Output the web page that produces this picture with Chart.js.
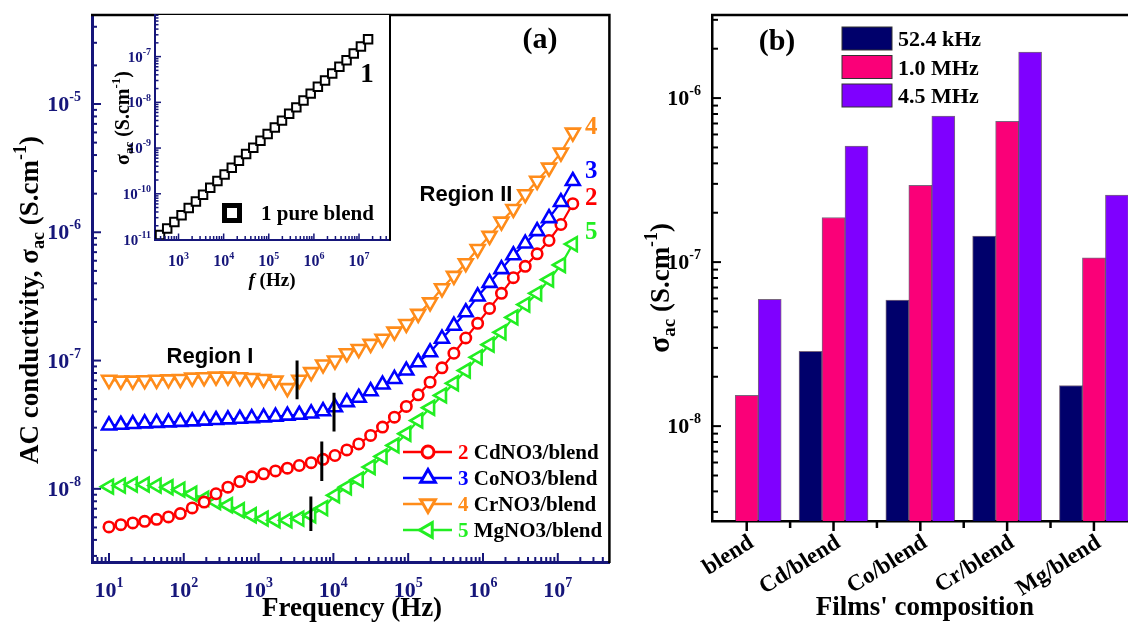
<!DOCTYPE html>
<html>
<head>
<meta charset="utf-8">
<script src="https://cdn.jsdelivr.net/npm/chart.js@4.4.0/dist/chart.umd.min.js"></script>
<style>
  html, body { margin: 0; padding: 0; background: #fff; overflow: hidden; width: 1128px; height: 622px; }
  canvas { position: absolute; top: 0; }
  #cA { left: 0; }
  #cI { left: 100px; }
  #cB { left: 620px; }
</style>
</head>
<body>
<canvas id="cA" width="620" height="622"></canvas>
<canvas id="cI" width="300" height="300"></canvas>
<canvas id="cB" width="530" height="622"></canvas>
<script>
// ---- data ----
const freqHz = [10, 14.4, 20.8, 30.0, 43.3, 62.4, 89.9, 129.7, 187.1, 269.8,
  389.0, 561.0, 809.1, 1167, 1683, 2427, 3499, 5047, 7278, 10496,
  15136, 21827, 31477, 45394, 65464, 94406, 136144, 196336, 283139, 408319,
  588844, 849180, 1224616, 1766038, 2546830, 3672823, 5296634, 7638358, 11015393, 15885467];

const sigmaCd = [5.05e-9, 5.26e-9, 5.42e-9, 5.58e-9, 5.79e-9, 6.04e-9, 6.41e-9, 7.10e-9, 7.89e-9, 9.16e-9,
  1.03e-8, 1.14e-8, 1.24e-8, 1.31e-8, 1.38e-8, 1.45e-8, 1.52e-8, 1.60e-8, 1.70e-8, 1.82e-8,
  2.01e-8, 2.24e-8, 2.61e-8, 3.03e-8, 3.62e-8, 4.39e-8, 5.41e-8, 6.78e-8, 8.77e-8, 1.14e-7,
  1.50e-7, 1.95e-7, 2.55e-7, 3.34e-7, 4.43e-7, 5.43e-7, 6.79e-7, 8.63e-7, 1.15e-6, 1.67e-6];

const sigmaCo = [3.12e-8, 3.16e-8, 3.20e-8, 3.24e-8, 3.27e-8, 3.30e-8, 3.33e-8, 3.36e-8, 3.40e-8, 3.44e-8,
  3.48e-8, 3.52e-8, 3.56e-8, 3.61e-8, 3.65e-8, 3.72e-8, 3.78e-8, 3.87e-8, 4.03e-8, 4.32e-8,
  4.74e-8, 5.13e-8, 5.77e-8, 6.50e-8, 7.19e-8, 8.36e-8, 9.70e-8, 1.16e-7, 1.48e-7, 1.87e-7,
  2.38e-7, 3.16e-7, 4.03e-7, 5.16e-7, 6.62e-7, 8.17e-7, 1.02e-6, 1.29e-6, 1.72e-6, 2.51e-6];

const sigmaCr = [7.08e-8, 6.98e-8, 6.98e-8, 7.03e-8, 7.08e-8, 7.14e-8, 7.19e-8, 7.36e-8, 7.41e-8, 7.50e-8,
  7.50e-8, 7.41e-8, 7.31e-8, 7.19e-8, 6.98e-8, 6.10e-8, 7.08e-8, 8.13e-8, 9.33e-8, 1.00e-7,
  1.14e-7, 1.23e-7, 1.35e-7, 1.48e-7, 1.68e-7, 1.93e-7, 2.31e-7, 2.84e-7, 3.66e-7, 4.57e-7,
  5.74e-7, 7.40e-7, 9.38e-7, 1.21e-6, 1.52e-6, 1.98e-6, 2.52e-6, 3.19e-6, 4.18e-6, 5.98e-6];

const sigmaMg = [1.04e-8, 1.06e-8, 1.08e-8, 1.08e-8, 1.06e-8, 1.03e-8, 9.86e-9, 9.16e-9, 8.37e-9, 7.89e-9,
  7.45e-9, 6.81e-9, 6.22e-9, 5.86e-9, 5.69e-9, 5.69e-9, 5.86e-9, 6.22e-9, 7.08e-9, 8.91e-9,
  1.03e-8, 1.18e-8, 1.48e-8, 1.79e-8, 2.18e-8, 2.69e-8, 3.41e-8, 4.29e-8, 5.35e-8, 6.65e-8,
  8.36e-8, 1.06e-7, 1.33e-7, 1.66e-7, 2.17e-7, 2.73e-7, 3.34e-7, 4.27e-7, 5.56e-7, 8.09e-7];

// inset: pure blend, measured from 389 Hz upward
const freqInset = freqHz.slice(10);
const sigmaBlend = [1.26e-11, 1.74e-11, 2.40e-11, 3.39e-11, 4.90e-11, 6.76e-11, 9.55e-11, 1.35e-10, 1.91e-10, 2.63e-10,
  3.72e-10, 5.25e-10, 7.41e-10, 1.02e-9, 1.45e-9, 2.04e-9, 2.82e-9, 3.98e-9, 5.62e-9, 7.76e-9,
  1.10e-8, 1.55e-8, 2.19e-8, 3.02e-8, 4.27e-8, 6.03e-8, 8.32e-8, 1.17e-7, 1.66e-7, 2.40e-7];

// crossover markers (Region I / Region II boundary) for Cr, Co, Cd, Mg
const crossFreq = [3270, 10200, 7000, 5000];
const crossLow = [5.0e-8, 2.8e-8, 1.15e-8, 4.7e-9];
const crossHigh = [1.0e-7, 5.6e-8, 2.34e-8, 8.7e-9];

// panel (b)
const compositions = ['blend', 'Cd/blend', 'Co/blend', 'Cr/blend', 'Mg/blend'];
const bar52kHz = [null, 2.86e-8, 5.86e-8, 1.44e-7, 1.77e-8];
const bar1MHz = [1.54e-8, 1.87e-7, 2.94e-7, 7.21e-7, 1.06e-7];
const bar45MHz = [5.93e-8, 5.09e-7, 7.76e-7, 1.91e-6, 2.56e-7];

const mainXExp = [1, 2, 3, 4, 5, 6, 7];
const mainYExp = [-5, -6, -7, -8];
const insetXExp = [3, 4, 5, 6, 7];
const insetYExp = [-7, -8, -9, -10, -11];
const barYExp = [-6, -7, -8];

// ---- styling ----
const serif = '"Liberation Serif", "Times New Roman", serif';
const sans = '"Liberation Sans", Arial, sans-serif';
const navy = '#16167a';
const cRed = '#ff0000', cBlue = '#0000ff', cOrange = '#ff8c1a', cGreen = '#22ee22';

function pts(xs, ys) { return xs.map((x, i) => ({ x: x, y: ys[i] })); }

function line(ctx, x1, y1, x2, y2) {
  ctx.beginPath(); ctx.moveTo(x1, y1); ctx.lineTo(x2, y2); ctx.stroke();
}

function logTicks(scale, cb) {
  const lo = Math.floor(Math.log10(scale.min)), hi = Math.ceil(Math.log10(scale.max));
  for (let e = lo; e <= hi; e++) {
    for (let m = 1; m < 10; m++) {
      const v = m * Math.pow(10, e);
      if (v < scale.min * 0.999 || v > scale.max * 1.001) continue;
      cb(scale.getPixelForValue(v), m === 1);
    }
  }
}

// draws a row of text pieces (for sub/superscripts)
function rich(ctx, parts, x, y, rot, align, color) {
  ctx.save();
  ctx.translate(x, y);
  if (rot) ctx.rotate(rot);
  let total = 0;
  parts.forEach(p => {
    p.font = (p.it ? 'italic ' : '') + 'bold ' + p.s + 'px ' + (p.f || serif);
    ctx.font = p.font;
    p.w = ctx.measureText(p.t).width;
    total += p.w;
  });
  let cx = align === 'center' ? -total / 2 : (align === 'right' ? -total : 0);
  ctx.textAlign = 'left';
  ctx.textBaseline = 'alphabetic';
  parts.forEach(p => {
    ctx.font = p.font;
    ctx.fillStyle = p.c || color || '#000';
    ctx.fillText(p.t, cx, p.dy || 0);
    cx += p.w;
  });
  ctx.restore();
}

function pow10(exp, size, sup) {
  return [{ t: '10', s: size }, { t: String(exp), s: sup, dy: -size * 0.45 }];
}

function marker(ctx, style, rot, x, y, r, color, lw) {
  ctx.save();
  ctx.translate(x, y);
  ctx.rotate(rot * Math.PI / 180);
  ctx.beginPath();
  if (style === 'circle') {
    ctx.arc(0, 0, r, 0, 2 * Math.PI);
  } else if (style === 'triangle') {
    for (let k = 0; k < 3; k++) {
      const a = k * 2 * Math.PI / 3;
      if (k) ctx.lineTo(Math.sin(a) * r, -Math.cos(a) * r);
      else ctx.moveTo(Math.sin(a) * r, -Math.cos(a) * r);
    }
    ctx.closePath();
  } else {
    ctx.rect(-r, -r, 2 * r, 2 * r);
  }
  ctx.fillStyle = '#fff';
  ctx.fill();
  ctx.lineWidth = lw;
  ctx.strokeStyle = color;
  ctx.stroke();
  ctx.restore();
}

const hiddenAxis = (color, width) => ({
  ticks: { display: false },
  grid: { display: false, drawTicks: false },
  border: { color: color, width: width }
});

function series(data, color, style, rot, r) {
  return {
    data: data, borderColor: color, borderWidth: 2.2,
    pointStyle: style, pointRotation: rot, pointRadius: r, pointHoverRadius: r,
    pointBorderWidth: 2.6, pointBackgroundColor: '#fff', pointBorderColor: color,
    tension: 0
  };
}

// legend rows for panel (a)
const legendA = [
  { n: '2', t: ' CdNO3/blend', c: cRed, st: 'circle', rot: 0, r: 6 },
  { n: '3', t: ' CoNO3/blend', c: cBlue, st: 'triangle', rot: 0, r: 8.5 },
  { n: '4', t: ' CrNO3/blend', c: cOrange, st: 'triangle', rot: 180, r: 8.5 },
  { n: '5', t: ' MgNO3/blend', c: cGreen, st: 'triangle', rot: 270, r: 8.5 }
];

const panelA = {
  id: 'panelA',
  afterDraw(chart) {
    const ctx = chart.ctx, a = chart.chartArea, xs = chart.scales.x, ys = chart.scales.y;
    ctx.save();
    ctx.strokeStyle = '#000'; ctx.lineWidth = 2.5;
    ctx.beginPath(); ctx.moveTo(a.left - 1, a.top); ctx.lineTo(a.right, a.top); ctx.lineTo(a.right, a.bottom + 1); ctx.stroke();

    ctx.strokeStyle = navy; ctx.lineWidth = 2;
    logTicks(ys, (p, major) => line(ctx, a.left, p, a.left + (major ? 9 : 5), p));
    logTicks(xs, (p, major) => line(ctx, p, a.bottom, p, a.bottom - (major ? 9 : 5)));

    mainYExp.forEach(e => rich(ctx, pow10(e, 22, 14), a.left - 11, ys.getPixelForValue(Math.pow(10, e)) + 7, 0, 'right', navy));
    mainXExp.forEach(e => rich(ctx, pow10(e, 22, 14), xs.getPixelForValue(Math.pow(10, e)), 597, 0, 'center', navy));

    rich(ctx, [{ t: 'Frequency (Hz)', s: 27 }], 352, 616, 0, 'center');
    rich(ctx, [{ t: 'AC conductivity, σ', s: 27 }, { t: 'ac', s: 18, dy: 6 }, { t: ' (S.cm', s: 27 },
      { t: '-1', s: 18, dy: -12 }, { t: ')', s: 27 }], 38, 300, -Math.PI / 2, 'center');

    rich(ctx, [{ t: 'Region I', s: 22, f: sans }], 210, 363, 0, 'center');
    rich(ctx, [{ t: 'Region II', s: 22, f: sans }], 466, 201, 0, 'center');
    rich(ctx, [{ t: '(a)', s: 30 }], 540, 48, 0, 'center');

    rich(ctx, [{ t: '4', s: 25 }], 585, 134, 0, 'left', cOrange);
    rich(ctx, [{ t: '3', s: 25 }], 585, 178, 0, 'left', cBlue);
    rich(ctx, [{ t: '2', s: 25 }], 585, 205, 0, 'left', cRed);
    rich(ctx, [{ t: '5', s: 25 }], 585, 239, 0, 'left', cGreen);

    legendA.forEach((row, i) => {
      const y = 452 + i * 26;
      ctx.strokeStyle = row.c; ctx.lineWidth = 2.5;
      line(ctx, 403, y, 452, y);
      marker(ctx, row.st, row.rot, 428, y, row.r, row.c, 3);
      rich(ctx, [{ t: row.n, s: 21, c: row.c }, { t: row.t, s: 21 }], 458, y + 7, 0, 'left');
    });
    ctx.restore();
  }
};

// crossover bars drawn on top of the markers
const crossSets = crossFreq.map((f, i) => ({
  data: [{ x: f, y: crossLow[i] }, { x: f, y: crossHigh[i] }],
  borderColor: '#000', borderWidth: 3, pointRadius: 0, order: -1
}));

new Chart(document.getElementById('cA'), {
  type: 'line',
  data: {
    datasets: [
      series(pts(freqHz, sigmaCr), cOrange, 'triangle', 180, 8),
      series(pts(freqHz, sigmaCo), cBlue, 'triangle', 0, 8),
      series(pts(freqHz, sigmaCd), cRed, 'circle', 0, 5.2),
      series(pts(freqHz, sigmaMg), cGreen, 'triangle', 270, 8)
    ].concat(crossSets)
  },
  options: {
    responsive: false, animation: false, devicePixelRatio: 1,
    layout: { padding: { left: 92, top: 15, right: 9, bottom: 60 } },
    plugins: { legend: { display: false }, tooltip: { enabled: false } },
    scales: {
      x: Object.assign({ type: 'logarithmic', position: 'bottom', min: 5.93, max: 4.9e7, bounds: 'data' }, hiddenAxis(navy, 3)),
      y: Object.assign({ type: 'logarithmic', position: 'left', min: 2.69e-9, max: 4.94e-5, bounds: 'data' }, hiddenAxis(navy, 3))
    }
  },
  plugins: [panelA]
});

// ---- inset ----
const panelInset = {
  id: 'panelInset',
  beforeDraw(chart) {
    const ctx = chart.ctx, a = chart.chartArea;
    ctx.save(); ctx.fillStyle = '#fff'; ctx.fillRect(a.left, a.top, a.right - a.left, a.bottom - a.top); ctx.restore();
  },
  afterDraw(chart) {
    const ctx = chart.ctx, a = chart.chartArea, xs = chart.scales.x, ys = chart.scales.y;
    ctx.save();
    ctx.strokeStyle = '#000'; ctx.lineWidth = 2;
    line(ctx, a.right, a.top, a.right, a.bottom + 1);
    ctx.strokeStyle = navy; ctx.lineWidth = 1.5;
    logTicks(ys, (p, major) => line(ctx, a.left, p, a.left + (major ? 6 : 3.5), p));
    logTicks(xs, (p, major) => line(ctx, p, a.bottom, p, a.bottom - (major ? 6 : 3.5)));

    insetYExp.forEach(e => rich(ctx, pow10(e, 15, 10), a.left - 4, ys.getPixelForValue(Math.pow(10, e)) + 5, 0, 'right', navy));
    insetXExp.forEach(e => rich(ctx, pow10(e, 16, 10), xs.getPixelForValue(Math.pow(10, e)), 266, 0, 'center', navy));

    rich(ctx, [{ t: 'f', s: 19, it: true }, { t: ' (Hz)', s: 19 }], 172, 286, 0, 'center');
    rich(ctx, [{ t: 'σ', s: 20 }, { t: 'ac', s: 13, dy: 4 }, { t: ' (S.cm', s: 20 }, { t: '-1', s: 13, dy: -9 }, { t: ')', s: 20 }],
      29, 118, -Math.PI / 2, 'center');

    rich(ctx, [{ t: '1', s: 27 }], 267, 82, 0, 'center');
    marker(ctx, 'rect', 0, 132, 213, 7.5, '#000', 5);
    rich(ctx, [{ t: '1 pure blend', s: 21 }], 161, 220, 0, 'left');
    ctx.restore();
  }
};

new Chart(document.getElementById('cI'), {
  type: 'line',
  data: {
    datasets: [{
      data: pts(freqInset, sigmaBlend), borderColor: '#000', borderWidth: 1.5,
      pointStyle: 'rect', pointRadius: 6, pointHoverRadius: 6, pointBorderWidth: 2,
      pointBackgroundColor: '#fff', pointBorderColor: '#000', tension: 0
    }]
  },
  options: {
    responsive: false, animation: false, devicePixelRatio: 1,
    layout: { padding: { left: 55, top: 15, right: 10, bottom: 60.5 } },
    plugins: { legend: { display: false }, tooltip: { enabled: false } },
    scales: {
      x: Object.assign({ type: 'logarithmic', position: 'bottom', min: 301, max: 4.86e7, bounds: 'data' }, hiddenAxis(navy, 2)),
      y: Object.assign({ type: 'logarithmic', position: 'left', min: 1e-11, max: 8.13e-7, bounds: 'data' }, hiddenAxis(navy, 2))
    }
  },
  plugins: [panelInset]
});

// ---- panel (b) ----
const barColors = ['#00006b', '#fa0078', '#7f00ff'];
const barLabels = ['52.4 kHz', '1.0 MHz', '4.5 MHz'];

const panelB = {
  id: 'panelB',
  afterDraw(chart) {
    const ctx = chart.ctx, a = chart.chartArea, xs = chart.scales.x, ys = chart.scales.y;
    ctx.save();
    ctx.strokeStyle = '#000'; ctx.lineWidth = 2.5;
    line(ctx, a.left - 1, a.top, a.right, a.top);
    ctx.lineWidth = 2;
    logTicks(ys, (p, major) => line(ctx, a.left, p, a.left + (major ? 9 : 6), p));
    ctx.lineWidth = 2.5;
    compositions.forEach((c, i) => {
      line(ctx, xs.getPixelForValue(i), a.bottom, xs.getPixelForValue(i), a.bottom + 10);
      if (i < compositions.length - 1) {
        const m = xs.getPixelForValue(i + 0.5);
        line(ctx, m, a.bottom, m, a.bottom + 7);
      }
    });

    barYExp.forEach(e => rich(ctx, pow10(e, 22, 14), a.left - 11, ys.getPixelForValue(Math.pow(10, e)) + 7, 0, 'right'));

    compositions.forEach((c, i) => {
      ctx.save();
      ctx.translate(xs.getPixelForValue(i) + 5, a.bottom + 20);
      ctx.rotate(-32 * Math.PI / 180);
      ctx.font = 'bold 23px ' + serif;
      ctx.fillStyle = '#000';
      ctx.textAlign = 'right';
      ctx.textBaseline = 'middle';
      ctx.fillText(c, 0, 0);
      ctx.restore();
    });

    rich(ctx, [{ t: "Films' composition", s: 27 }], 305, 615, 0, 'center');
    rich(ctx, [{ t: 'σ', s: 30 }, { t: 'ac', s: 19, dy: 6 }, { t: ' (S.cm', s: 27 }, { t: '-1', s: 18, dy: -12 }, { t: ')', s: 27 }],
      49, 288, -Math.PI / 2, 'center');
    rich(ctx, [{ t: '(b)', s: 30 }], 157, 50, 0, 'center');

    barLabels.forEach((t, i) => {
      const y = 27 + i * 28.5;
      ctx.fillStyle = barColors[i];
      ctx.fillRect(222, y, 50, 23);
      ctx.strokeStyle = '#333'; ctx.lineWidth = 1;
      ctx.strokeRect(222, y, 50, 23);
      rich(ctx, [{ t: t, s: 22 }], 278, y + 19, 0, 'left');
    });
    ctx.restore();
  }
};

const barSet = (vals, i) => ({
  label: barLabels[i],
  data: vals.map((v, k) => ({ x: k, y: v })),
  backgroundColor: barColors[i],
  borderColor: 'rgba(30,0,40,0.6)',
  borderWidth: 1,
  barThickness: 23
});

new Chart(document.getElementById('cB'), {
  type: 'bar',
  data: { datasets: [barSet(bar52kHz, 0), barSet(bar1MHz, 1), barSet(bar45MHz, 2)] },
  options: {
    responsive: false, animation: false, devicePixelRatio: 1,
    layout: { padding: { left: 92, top: 15, right: 4, bottom: 101 } },
    plugins: { legend: { display: false }, tooltip: { enabled: false } },
    scales: {
      x: Object.assign({ type: 'linear', position: 'bottom', min: -0.4, max: 4.6, bounds: 'data', offset: false }, hiddenAxis('#000', 2.5)),
      y: Object.assign({ type: 'logarithmic', position: 'left', min: 2.64e-9, max: 3.21e-6, bounds: 'data' }, hiddenAxis('#000', 2.5))
    }
  },
  plugins: [panelB]
});
</script>
</body>
</html>
